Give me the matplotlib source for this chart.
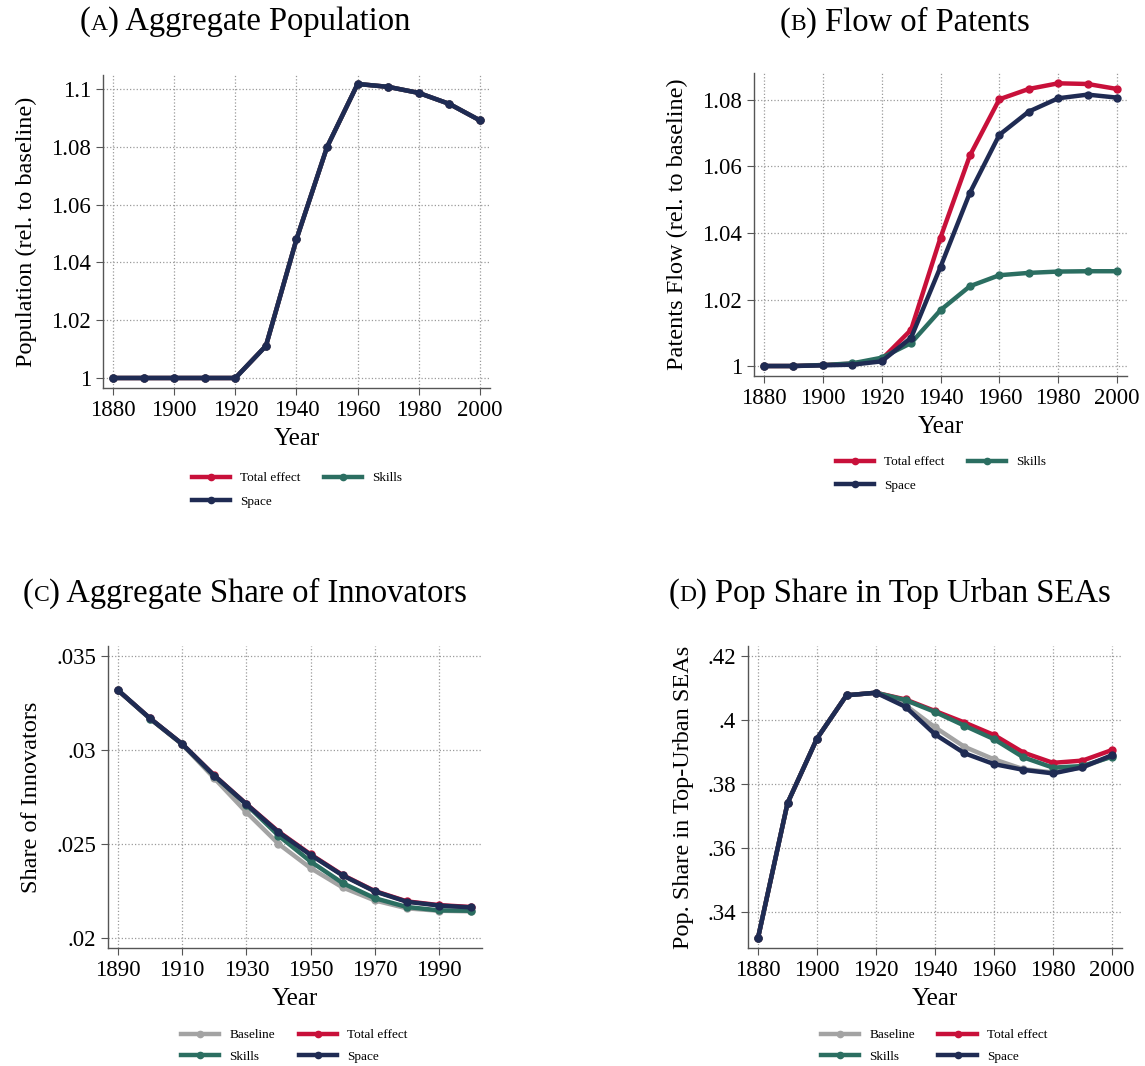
import numpy as np
import matplotlib.pyplot as plt
from matplotlib.lines import Line2D
from matplotlib.offsetbox import TextArea, HPacker, AnnotationBbox

plt.rcParams['font.family'] = ['Liberation Serif', 'DejaVu Serif']

years = [1880, 1890, 1900, 1910, 1920, 1930, 1940, 1950, 1960, 1970, 1980, 1990, 2000]
years_c = years[1:]

# (A) aggregate population, relative to baseline (all three scenarios coincide)
pop_total = [1.0, 1.0, 1.0, 1.0, 1.0, 1.0111, 1.048, 1.0799, 1.1017, 1.1007, 1.0986, 1.0948, 1.0891]
pop_skills = [1.0, 1.0, 1.0, 1.0, 1.0, 1.0111, 1.048, 1.0799, 1.1017, 1.1007, 1.0986, 1.0948, 1.0891]
pop_space = [1.0, 1.0, 1.0, 1.0, 1.0, 1.0111, 1.048, 1.0799, 1.1017, 1.1007, 1.0986, 1.0948, 1.0891]

# (B) flow of patents, relative to baseline
pat_total = [1.0, 1.0, 1.0003, 1.0007, 1.002, 1.0109, 1.0386, 1.0633, 1.0802, 1.0833, 1.085, 1.0848, 1.0833]
pat_skills = [1.0, 1.0, 1.0003, 1.0008, 1.0025, 1.0069, 1.0168, 1.024, 1.0273, 1.028, 1.0284, 1.0285, 1.0285]
pat_space = [1.0, 1.0, 1.0002, 1.0004, 1.0014, 1.0085, 1.0298, 1.0521, 1.0695, 1.0765, 1.0805, 1.0816, 1.0807]

# (C) aggregate share of innovators, 1890-2000
inn_base = [.03318, .03166, .0303, .0285, .02669, .02501, .02372, .02269, .0220, .02158, .02145, .02142]
inn_total = [.03318, .03168, .03032, .02865, .02713, .02566, .02445, .02335, .0225, .02195, .02175, .02165]
inn_skills = [.03318, .03167, .03031, .02862, .0271, .02545, .02407, .02292, .02212, .02165, .02147, .02145]
inn_space = [.03318, .03168, .03032, .02864, .02712, .02563, .02442, .02333, .02248, .02193, .02173, .02163]

# (D) population share in top urban SEAs
sea_base = [.3319, .374, .3942, .4077, .4085, .4046, .3977, .3916, .3877, .3846, .3836, .3852, .3887]
sea_total = [.3319, .374, .3942, .4077, .4085, .4064, .4028, .3992, .3953, .3898, .3866, .3873, .3906]
sea_skills = [.3319, .374, .3942, .4077, .4085, .4062, .4025, .3982, .394, .3883, .3851, .3856, .3885]
sea_space = [.3319, .374, .3942, .4077, .4085, .4041, .3955, .3896, .3862, .3844, .3833, .3852, .389]

c_base = '#a3a3a3'
c_total = '#c8103a'
c_skills = '#2b6e61'
c_space = '#1f2b53'

W, H = 1145, 1066
fig = plt.figure(figsize=(W / 100, H / 100), dpi=100)


def px_axes(l, r, t, b):
    return fig.add_axes([l / W, 1 - b / H, (r - l) / W, (b - t) / H])


def style(ax, xlim, ylim, xt, yt, ylabs, ylabel):
    ax.set_xlim(*xlim)
    ax.set_ylim(*ylim)
    ax.set_xticks(xt)
    ax.set_xticklabels([str(x) for x in xt])
    ax.set_yticks(yt)
    ax.set_yticklabels(ylabs)
    ax.grid(True, linestyle=':', color='#9a9a9a', linewidth=0.9)
    ax.set_axisbelow(True)
    for s in ['top', 'right']:
        ax.spines[s].set_visible(False)
    for s in ['left', 'bottom']:
        ax.spines[s].set_color('#555555')
        ax.spines[s].set_linewidth(1.0)
    ax.tick_params(labelsize=16.5, length=5, color='#555555', direction='out')
    ax.set_xlabel('Year', fontsize=18, labelpad=5)
    ax.set_ylabel(ylabel, fontsize=17.5, labelpad=10)


def title(x, y, letter, text):
    parts = [TextArea('(', textprops=dict(fontsize=23.5)),
             TextArea(letter, textprops=dict(fontsize=17)),
             TextArea(') ' + text, textprops=dict(fontsize=23.5))]
    box = HPacker(children=parts, align='baseline', pad=0, sep=0)
    ab = AnnotationBbox(box, (x / W, 1 - y / H), xycoords='figure fraction',
                        frameon=False, box_alignment=(0.5, 0.5))
    fig.add_artist(ab)


def series(ax, x, y, c, label):
    ax.plot(x, y, color=c, lw=3.2, marker='o', ms=5, label=label,
            solid_capstyle='round')


def legend(handles_labels, x, y, spacing):
    h = [Line2D([], [], color=c, lw=3.2, marker='o', ms=4.5) for c, _ in handles_labels]
    lab = [l for _, l in handles_labels]
    fig.legend(h, lab, loc='center', bbox_to_anchor=(x / W, 1 - y / H),
               ncol=2, frameon=False, fontsize=9.5, handlelength=2.9,
               columnspacing=1.8, handletextpad=0.75, labelspacing=spacing)


# (A)
ax = px_axes(103, 490, 75, 388)
series(ax, years, pop_total, c_total, 'Total effect')
series(ax, years, pop_skills, c_skills, 'Skills')
series(ax, years, pop_space, c_space, 'Space')
style(ax, (1876.7, 2003.3), (0.99654, 1.1048), range(1880, 2001, 20),
      [1.0, 1.02, 1.04, 1.06, 1.08, 1.1], ['1', '1.02', '1.04', '1.06', '1.08', '1.1'],
      'Population (rel. to baseline)')
title(245, 22, 'A', 'Aggregate Population')
legend([(c_total, 'Total effect'), (c_space, 'Space'), (c_skills, 'Skills')], 297, 490, 0.85)

# (B)
ax = px_axes(754, 1127, 73, 376)
series(ax, years, pat_total, c_total, 'Total effect')
series(ax, years, pat_skills, c_skills, 'Skills')
series(ax, years, pat_space, c_space, 'Space')
style(ax, (1876.6, 2003.4), (0.997, 1.0881), range(1880, 2001, 20),
      [1.0, 1.02, 1.04, 1.06, 1.08], ['1', '1.02', '1.04', '1.06', '1.08'],
      'Patents Flow (rel. to baseline)')
title(905, 22, 'B', 'Flow of Patents')
legend([(c_total, 'Total effect'), (c_space, 'Space'), (c_skills, 'Skills')], 941, 474, 0.85)

# (C)
ax = px_axes(108, 482, 646, 948)
series(ax, years_c, inn_base, c_base, 'Baseline')
series(ax, years_c, inn_total, c_total, 'Total effect')
series(ax, years_c, inn_skills, c_skills, 'Skills')
series(ax, years_c, inn_space, c_space, 'Space')
style(ax, (1886.9, 2003.4), (.01947, .03553), range(1890, 1991, 20),
      [.02, .025, .03, .035], ['.02', '.025', '.03', '.035'],
      'Share of Innovators')
title(245, 593, 'C', 'Aggregate Share of Innovators')
legend([(c_base, 'Baseline'), (c_skills, 'Skills'), (c_total, 'Total effect'),
        (c_space, 'Space')], 294, 1046, 0.7)

# (D)
ax = px_axes(748, 1122, 646, 948)
series(ax, years, sea_base, c_base, 'Baseline')
series(ax, years, sea_total, c_total, 'Total effect')
series(ax, years, sea_skills, c_skills, 'Skills')
series(ax, years, sea_space, c_space, 'Space')
style(ax, (1876.6, 2003.4), (.32875, .4231), range(1880, 2001, 20),
      [.34, .36, .38, .40, .42], ['.34', '.36', '.38', '.4', '.42'],
      'Pop. Share in Top-Urban SEAs')
title(890, 593, 'D', 'Pop Share in Top Urban SEAs')
legend([(c_base, 'Baseline'), (c_skills, 'Skills'), (c_total, 'Total effect'),
        (c_space, 'Space')], 934, 1046, 0.7)

fig.savefig('out.png', dpi=100)
